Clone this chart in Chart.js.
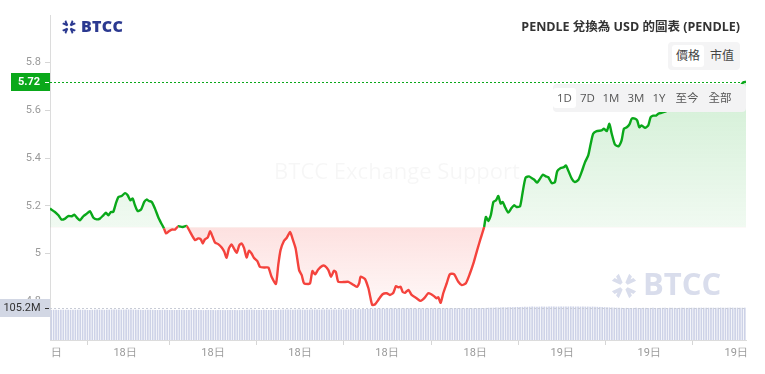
<!DOCTYPE html>
<html>
<head>
<meta charset="utf-8">
<script src="https://cdn.jsdelivr.net/npm/chart.js@4.4.1/dist/chart.umd.min.js"></script>
<style>
  body { margin: 0; background: #fff; }
  #wrap { position: relative; width: 765px; height: 374px; overflow: hidden; font-family: 'Open Sans', 'Noto Sans CJK TC', sans-serif; }
  #chart { position: absolute; left: 0; top: 0; }
  .ov { position: absolute; white-space: nowrap; }
  .title { right: 25px; top: 16px; font-size: 12.5px; font-weight: 700; color: #333; }
  .logo { left: 81px; top: 15px; font-size: 16px; font-weight: 800; color: #2b3990; font-family: 'Open Sans', sans-serif; letter-spacing: 0.3px; }
  .toggle { left: 668px; top: 42px; width: 72px; height: 28px; background: #f4f4f5; border-radius: 4px; }
  .panel { left: 553px; top: 84px; width: 193px; height: 28px; background: #f3f3f4; border-radius: 4px; }
  .btn { position: absolute; top: 4px; height: 20px; line-height: 20px; font-size: 11.5px; color: #555; text-align: center; }
  .btn.on { background: #fff; border-radius: 3px; }
</style>
</head>
<body>
<div id="wrap">
  <canvas id="chart" width="765" height="374"></canvas>
  <div class="ov logo">BTCC</div>
  <div class="ov title">PENDLE 兌換為 USD 的圖表 (PENDLE)</div>
  <div class="ov toggle">
    <div class="btn on" style="left:4px;width:32px;top:3px;height:22px;line-height:22px;font-size:12px;color:#444">價格</div>
    <div class="btn" style="left:38px;width:32px;top:3px;height:22px;line-height:22px;font-size:12px;color:#444">市值</div>
  </div>
  <div class="ov panel">
    <div class="btn on" style="left:0;width:23px;">1D</div>
    <div class="btn" style="left:24px;width:21px;">7D</div>
    <div class="btn" style="left:47px;width:22px;">1M</div>
    <div class="btn" style="left:72px;width:22px;">3M</div>
    <div class="btn" style="left:96px;width:20px;">1Y</div>
    <div class="btn" style="left:120px;width:28px;">至今</div>
    <div class="btn" style="left:153px;width:28px;">全部</div>
  </div>
</div>
<script>
// price series: hours since start of window, price in USD
const hours = [
  0.00, 0.17, 0.29, 0.40, 0.52, 0.63, 0.75, 0.84, 0.92, 1.03,
  1.15, 1.27, 1.38, 1.49, 1.61, 1.72, 1.84, 1.93, 2.01, 2.10,
  2.18, 2.27, 2.36, 2.47, 2.59, 2.68, 2.77, 2.85, 2.93, 3.02,
  3.14, 3.25, 3.33, 3.41, 3.51, 3.62, 3.73, 3.83, 3.93, 4.00,
  4.10, 4.20, 4.31, 4.42, 4.56, 4.71, 4.83, 5.00, 5.11, 5.20,
  5.27, 5.34, 5.44, 5.52, 5.61, 5.69, 5.80, 5.92, 6.01, 6.09,
  6.17, 6.26, 6.34, 6.44, 6.53, 6.61, 6.69, 6.78, 6.86, 6.95,
  7.03, 7.15, 7.24, 7.41, 7.53, 7.64, 7.79, 7.87, 7.95, 8.07,
  8.16, 8.28, 8.36, 8.47, 8.59, 8.68, 8.76, 8.91, 8.97, 9.05,
  9.14, 9.25, 9.39, 9.48, 9.60, 9.69, 9.79, 9.86, 9.94, 10.11,
  10.29, 10.44, 10.58, 10.66, 10.71, 10.86, 10.98, 11.03, 11.11, 11.21,
  11.32, 11.47, 11.61, 11.72, 11.84, 11.93, 12.01, 12.09, 12.16, 12.24,
  12.36, 12.47, 12.64, 12.78, 12.93, 13.04, 13.13, 13.24, 13.33, 13.39,
  13.47, 13.56, 13.68, 13.79, 13.93, 14.08, 14.20, 14.34, 14.48, 14.60,
  14.73, 14.85, 14.97, 15.03, 15.11, 15.20, 15.29, 15.38, 15.46, 15.54,
  15.61, 15.69, 15.80, 15.90, 16.00, 16.09, 16.21, 16.30, 16.40, 16.52,
  16.61, 16.70, 16.80, 16.90, 16.99, 17.10, 17.18, 17.30, 17.41, 17.49,
  17.61, 17.72, 17.79, 17.87, 17.99, 18.10, 18.22, 18.33, 18.45, 18.56,
  18.64, 18.73, 18.85, 19.02, 19.10, 19.20, 19.29, 19.37, 19.48, 19.60,
  19.71, 19.79, 19.89, 19.98, 20.06, 20.17, 20.25, 20.32, 20.40, 20.52,
  20.63, 20.71, 20.80, 20.90, 20.98, 21.31, 21.72, 22.14, 22.55, 22.97,
  23.38, 23.72, 23.83, 23.91, 24.00
];
const prices = [
  5.188, 5.174, 5.160, 5.142, 5.146, 5.157, 5.156, 5.163, 5.151, 5.139,
  5.156, 5.167, 5.177, 5.151, 5.143, 5.146, 5.160, 5.171, 5.160, 5.174,
  5.174, 5.209, 5.237, 5.241, 5.253, 5.244, 5.223, 5.230, 5.202, 5.178,
  5.184, 5.216, 5.226, 5.220, 5.216, 5.188, 5.153, 5.128, 5.105, 5.084,
  5.093, 5.100, 5.100, 5.114, 5.111, 5.115, 5.090, 5.056, 5.063, 5.059,
  5.042, 5.059, 5.067, 5.093, 5.069, 5.046, 5.039, 5.025, 5.007, 4.982,
  5.021, 5.038, 5.021, 5.003, 5.035, 5.042, 5.023, 4.983, 5.011, 5.000,
  4.982, 4.968, 4.944, 4.941, 4.941, 4.902, 4.872, 4.951, 5.014, 5.053,
  5.065, 5.090, 5.063, 5.021, 4.930, 4.909, 4.875, 4.872, 4.875, 4.926,
  4.912, 4.933, 4.948, 4.947, 4.930, 4.902, 4.927, 4.921, 4.881, 4.880,
  4.881, 4.870, 4.860, 4.875, 4.902, 4.893, 4.854, 4.826, 4.784, 4.787,
  4.805, 4.829, 4.833, 4.826, 4.835, 4.863, 4.858, 4.860, 4.839, 4.835,
  4.847, 4.826, 4.812, 4.801, 4.816, 4.833, 4.830, 4.821, 4.812, 4.816,
  4.793, 4.833, 4.875, 4.913, 4.913, 4.881, 4.867, 4.875, 4.916, 4.958,
  5.014, 5.063, 5.111, 5.153, 5.136, 5.160, 5.216, 5.223, 5.241, 5.209,
  5.216, 5.195, 5.171, 5.188, 5.202, 5.195, 5.198, 5.258, 5.318, 5.323,
  5.316, 5.309, 5.297, 5.314, 5.330, 5.323, 5.320, 5.295, 5.299, 5.345,
  5.358, 5.362, 5.369, 5.348, 5.314, 5.299, 5.309, 5.341, 5.383, 5.411,
  5.457, 5.502, 5.513, 5.516, 5.523, 5.513, 5.544, 5.502, 5.457, 5.449,
  5.474, 5.523, 5.529, 5.541, 5.565, 5.565, 5.557, 5.529, 5.537, 5.527,
  5.537, 5.571, 5.578, 5.578, 5.586, 5.599, 5.616, 5.628, 5.650, 5.662,
  5.675, 5.691, 5.706, 5.718, 5.720
];
const baseline = 5.11;
const lastPrice = 5.72;

// 24h volume (millions), one bar per 5 minutes
const volumes = [
  98.1, 98.3, 98.0, 97.8, 98.2, 98.5, 98.4, 98.1, 97.9, 98.0, 98.3, 98.6, 98.4, 98.2, 98.0, 97.7, 97.9, 98.2, 98.5, 98.8, 98.6, 98.3, 98.1, 98.4,
  98.7, 99.1, 99.4, 99.2, 98.9, 98.6, 98.8, 99.0, 99.3, 99.1, 98.8, 98.5, 98.3, 98.1, 97.9, 98.2, 98.4, 98.3, 98.0, 97.8, 97.6, 97.9, 98.1, 98.0,
  97.8, 97.5, 97.3, 97.6, 97.9, 98.1, 97.8, 97.6, 97.4, 97.7, 98.0, 98.2, 97.9, 97.6, 97.3, 97.1, 97.4, 97.7, 97.5, 97.2, 97.0, 97.3, 97.6, 97.4,
  97.2, 97.5, 97.8, 97.6, 97.3, 97.0, 97.2, 97.5, 97.9, 98.3, 98.6, 98.4, 98.1, 97.8, 97.5, 97.7, 98.0, 97.8, 97.5, 97.3, 97.6, 97.9, 98.2, 98.5,
  98.8, 99.2, 99.0, 98.7, 98.5, 98.8, 99.1, 98.9, 98.6, 98.4, 98.7, 99.0, 99.3, 99.1, 98.8, 98.6, 98.9, 99.2, 99.5, 99.3, 99.0, 98.8, 99.1, 99.4,
  99.7, 99.5, 99.2, 99.5, 99.9, 100.3, 100.1, 99.8, 100.2, 100.6, 100.9, 101.3, 101.7, 102.0, 101.8, 102.2, 102.5, 102.3, 102.0, 102.4, 102.7, 103.0, 102.8, 102.5,
  102.8, 103.1, 102.9, 102.6, 102.9, 103.2, 103.0, 102.7, 103.0, 103.3, 103.1, 102.8, 103.1, 103.4, 103.2, 102.9, 103.2, 103.5, 103.3, 103.0, 103.3, 103.6, 103.4, 103.1,
  103.4, 103.7, 103.5, 103.2, 103.5, 103.8, 103.6, 103.3, 103.6, 103.9, 104.2, 104.0, 104.4, 104.8, 104.6, 105.1, 105.5, 105.3, 105.8, 106.2, 106.0, 106.5, 106.9, 106.7,
  107.1, 107.5, 107.3, 107.8, 108.2, 108.0, 108.4, 108.7, 108.5, 108.2, 108.6, 108.9, 108.7, 108.4, 108.8, 109.1, 108.9, 108.6, 108.9, 109.2, 109.0, 108.7, 109.0, 109.3,
  109.1, 108.8, 109.0, 108.7, 108.9, 108.6, 108.8, 108.5, 108.7, 108.3, 108.0, 107.6, 107.2, 106.8, 106.4, 106.0, 105.7, 105.4, 105.1, 104.8, 104.6, 104.3, 104.5, 104.2,
  104.0, 104.3, 104.5, 104.2, 104.4, 104.7, 104.5, 104.2, 104.4, 104.6, 104.3, 104.1, 104.4, 104.7, 104.5, 104.2, 104.5, 104.8, 104.6, 104.3, 104.6, 104.9, 104.7, 104.4,
  104.7, 105.0, 104.8, 104.5, 104.8, 105.1, 104.9, 104.6, 104.9, 105.2, 105.0, 104.7, 105.0, 105.3, 105.1, 104.8, 105.1, 105.4, 105.2, 104.9, 105.1, 105.3, 105.0, 105.2
];
const lastVolume = 105.2;

const xTickHours = [0, 2.59, 5.62, 8.62, 11.62, 14.66, 17.66, 20.66, 23.66];
const xTickLabels = ['18日', '18日', '18日', '18日', '18日', '18日', '19日', '19日', '19日'];
const yTickValues = [4.8, 5.0, 5.2, 5.4, 5.6, 5.8];

const GREEN = '#0aa81a';
const RED = '#f4433d';
const AXIS_FONT = { family: 'Roboto, "Open Sans", sans-serif', size: 11 };

const canvas = document.getElementById('chart');
const ctx0 = canvas.getContext('2d');

// gradient fills above / below the opening price
const greenFill = ctx0.createLinearGradient(0, 80, 0, 227);
greenFill.addColorStop(0, 'rgba(10,168,26,0.19)');
greenFill.addColorStop(1, 'rgba(10,168,26,0.06)');
const redFill = ctx0.createLinearGradient(0, 227, 0, 305);
redFill.addColorStop(0, 'rgba(244,67,61,0.16)');
redFill.addColorStop(1, 'rgba(244,67,61,0.04)');

function drawMark(ctx, x, y, s, color) {
  // simple crossed-chevron mark used in the BTCC logo
  ctx.save();
  ctx.translate(x, y);
  ctx.scale(s, s);
  ctx.fillStyle = color;
  const arm = (rot) => {
    ctx.save();
    ctx.rotate(rot);
    ctx.beginPath();
    ctx.moveTo(-0.9, -2);
    ctx.lineTo(0.9, -2);
    ctx.lineTo(2.8, -7);
    ctx.lineTo(0.6, -7);
    ctx.lineTo(0, -5.2);
    ctx.lineTo(-0.6, -7);
    ctx.lineTo(-2.8, -7);
    ctx.closePath();
    ctx.fill();
    ctx.restore();
  };
  arm(Math.PI / 4); arm(3 * Math.PI / 4); arm(5 * Math.PI / 4); arm(7 * Math.PI / 4);
  ctx.restore();
}

const overlayPlugin = {
  id: 'overlay',
  beforeDatasetsDraw(chart) {
    const { ctx } = chart;
    ctx.save();
    ctx.font = '22px "Open Sans", sans-serif';
    ctx.fillStyle = 'rgba(0,0,0,0.035)';
    ctx.textAlign = 'center';
    ctx.textBaseline = 'middle';
    ctx.fillText('BTCC Exchange Support', 397, 173);
    ctx.font = 'bold 31px "Open Sans", sans-serif';
    ctx.fillStyle = '#d9ddec';
    ctx.textAlign = 'left';
    ctx.fillText('BTCC', 643, 286);
    ctx.restore();
    drawMark(ctx, 624, 286, 1.75, '#d9ddec');
  },
  afterDraw(chart) {
    const { ctx, chartArea: area } = chart;
    const y = chart.scales.y;
    const v = chart.scales.v;
    ctx.save();
    // last price line + label
    const py = Math.round(y.getPixelForValue(lastPrice)) + 0.5;
    ctx.strokeStyle = GREEN;
    ctx.lineWidth = 1;
    ctx.setLineDash([2, 2]);
    ctx.beginPath();
    ctx.moveTo(area.left, py);
    ctx.lineTo(area.right, py);
    ctx.stroke();
    ctx.setLineDash([]);
    ctx.fillStyle = GREEN;
    ctx.fillRect(11, py - 9.5, 39, 18);
    ctx.strokeStyle = '#fff';
    ctx.beginPath();
    ctx.moveTo(45, py);
    ctx.lineTo(49, py);
    ctx.stroke();
    ctx.fillStyle = '#fff';
    ctx.font = 'bold 11px Roboto, sans-serif';
    ctx.textAlign = 'center';
    ctx.textBaseline = 'middle';
    ctx.fillText(lastPrice.toFixed(2), 29, py);

    // last volume line + label
    const vy = Math.round(v.getPixelForValue(lastVolume)) + 0.5;
    ctx.strokeStyle = '#c8ccd6';
    ctx.setLineDash([2, 2]);
    ctx.beginPath();
    ctx.moveTo(area.left, vy);
    ctx.lineTo(area.right, vy);
    ctx.stroke();
    ctx.setLineDash([]);
    ctx.fillStyle = '#d2d7e4';
    ctx.fillRect(0, vy - 9.5, 50, 18);
    ctx.strokeStyle = '#333';
    ctx.beginPath();
    ctx.moveTo(45, vy);
    ctx.lineTo(49, vy);
    ctx.stroke();
    ctx.fillStyle = '#333';
    ctx.font = '11px Roboto, sans-serif';
    ctx.fillText(lastVolume.toFixed(1) + 'M', 22, vy);

    // first time label is cut by the price axis
    ctx.fillStyle = '#fff';
    ctx.fillRect(0, area.bottom + 6, area.left + 1.5, 20);
    ctx.restore();
    drawMark(ctx, 69, 27, 1.0, '#2b3990');
  }
};

new Chart(canvas, {
  type: 'line',
  data: {
    datasets: [
      {
        type: 'line',
        data: hours.map((h, i) => ({ x: h, y: prices[i] })),
        yAxisID: 'y',
        order: 0,
        borderWidth: 2.4,
        borderColor: GREEN,
        segment: {
          borderColor: (c) => ((c.p0.parsed.y + c.p1.parsed.y) / 2 >= baseline ? GREEN : RED)
        },
        pointRadius: 0,
        tension: 0.2,
        fill: { target: { value: baseline }, above: greenFill, below: redFill }
      },
      {
        type: 'bar',
        data: volumes.map((val, i) => ({ x: i / 12 + 1 / 24, y: val })),
        yAxisID: 'v',
        order: 1,
        backgroundColor: '#cdd2e7',
        barThickness: 1,
        grouped: false
      }
    ]
  },
  options: {
    responsive: false,
    animation: false,
    layout: { padding: { top: 15, right: 19, left: 0, bottom: 0 } },
    plugins: {
      legend: { display: false },
      tooltip: { enabled: false }
    },
    scales: {
      x: {
        type: 'linear',
        min: 0,
        max: 24,
        offset: false,
        afterFit: (s) => { s.height = 34; },
        afterBuildTicks: (s) => { s.ticks = xTickHours.map((h) => ({ value: h })); },
        ticks: {
          autoSkip: false,
          maxRotation: 0,
          color: '#9a9a9a',
          font: AXIS_FONT,
          padding: 2,
          callback: (val, i) => xTickLabels[i]
        },
        grid: { drawOnChartArea: false, tickLength: 5, color: '#d6d6d6' },
        border: { color: '#dcdcdc' }
      },
      y: {
        position: 'left',
        min: 4.637,
        max: 6.0,
        afterFit: (s) => { s.width = 50; },
        afterBuildTicks: (s) => { s.ticks = yTickValues.map((t) => ({ value: t })); },
        ticks: {
          color: '#9a9a9a',
          font: AXIS_FONT,
          padding: 4,
          callback: (val) => String(Number(val.toFixed(1)))
        },
        grid: { drawOnChartArea: false, tickLength: 5, color: '#d6d6d6' },
        border: { color: '#dcdcdc' }
      },
      v: {
        display: false,
        min: 0,
        max: 1068
      }
    }
  },
  plugins: [overlayPlugin]
});
</script>
</body>
</html>
